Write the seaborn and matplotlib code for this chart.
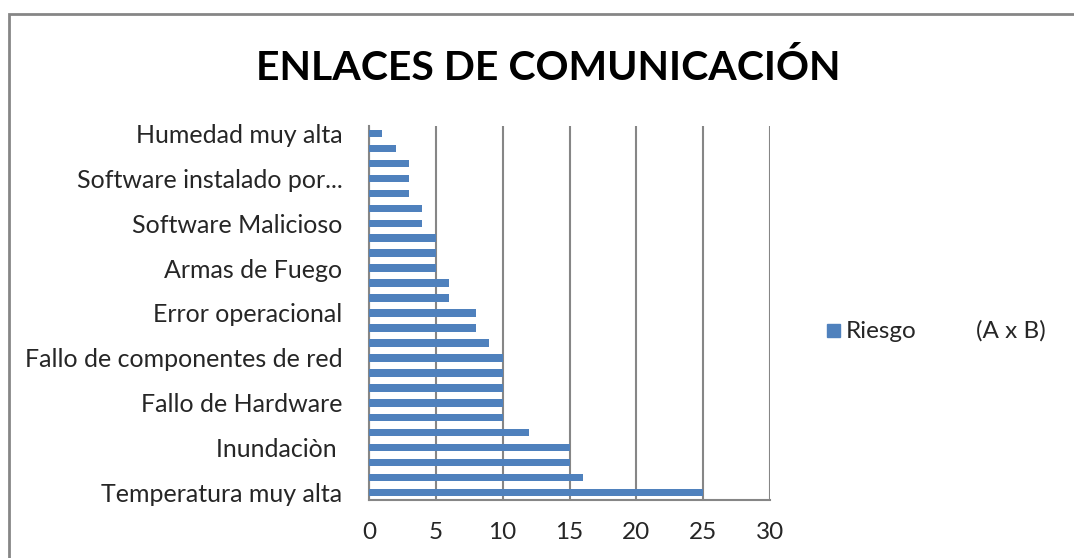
import matplotlib
matplotlib.use("Agg")
import matplotlib.pyplot as plt
from matplotlib.patches import Rectangle
import seaborn as sns
import pandas as pd
import numpy as np

# --- Data (bottom to top) ---
labels = [
    "Temperatura muy alta", "", "", "Inundaciòn ", "", "",
    "Fallo de Hardware", "", "", "Fallo de componentes de red", "", "",
    "Error operacional", "", "", "Armas de Fuego", "", "",
    "Software Malicioso", "", "", "Software instalado por...", "", "",
    "Humedad muy alta",
]
riesgo = [25, 16, 15, 15, 12, 10, 10, 10, 10, 10, 9, 8, 8,
          6, 6, 5, 5, 5, 4, 4, 3, 3, 3, 2, 1]
x_ticks = [0, 5, 10, 15, 20, 25, 30]

BLUE = "#4F81BD"
GRID = "#868686"

sns.set_theme(style="white")
plt.rcParams["font.family"] = ["Lato", "DejaVu Sans"]

df = pd.DataFrame({"pos": np.arange(len(riesgo)), "riesgo": riesgo})

fig = plt.figure(figsize=(10.74, 5.58), dpi=100)
ax = fig.add_axes([369 / 1074, 1 - 500 / 558, (770 - 369) / 1074, (500 - 126) / 558])

sns.barplot(data=df, x="riesgo", y="pos", orient="h", native_scale=True,
            color=BLUE, width=0.5, saturation=1, linewidth=0, ax=ax, zorder=3)

ax.set_xlim(0, 30)
ax.set_ylim(-0.5, len(riesgo) - 0.5)
ax.set_xticks(x_ticks)
ax.set_xticklabels([str(t) for t in x_ticks], fontsize=17.5)
ax.set_yticks(np.arange(len(riesgo)))
ax.set_yticklabels(labels, fontsize=18)
ax.set_yticks(np.arange(-0.5, len(riesgo)), minor=True)
ax.tick_params(axis="y", which="major", length=0, pad=19)
ax.tick_params(axis="y", which="minor", length=6, width=1.5, color=GRID, direction="out")
ax.tick_params(axis="x", length=6, width=1.5, color=GRID, direction="out", pad=10)
ax.set_xlabel("")
ax.set_ylabel("")

ax.grid(axis="x", color=GRID, linewidth=1.5, zorder=0)
ax.set_axisbelow(True)
for side in ["top", "right"]:
    ax.spines[side].set_visible(False)
for side in ["left", "bottom"]:
    ax.spines[side].set_color(GRID)
    ax.spines[side].set_linewidth(1.5)

# title
fig.text(548 / 1074, 1 - 68 / 558, "ENLACES DE COMUNICACIÓN", ha="center", va="center",
         fontsize=29.5, fontweight="bold", color="black")

# legend
fig.patches.append(Rectangle((827 / 1074, 1 - 337 / 558), 13 / 1074, 13 / 558,
                             transform=fig.transFigure, color=BLUE))
fig.text(846 / 1074, 1 - 331 / 558, "Riesgo", ha="left", va="center", fontsize=17.5)
fig.text(976 / 1074, 1 - 331 / 558, "(A x B)", ha="left", va="center", fontsize=17.5)

# chart border
fig.patches.append(Rectangle((9 / 1074, -0.1), 1.2, 1.1 - 14 / 558, transform=fig.transFigure,
                             fill=False, edgecolor=GRID, linewidth=2))

fig.savefig("out.png", dpi=100, facecolor="white")
